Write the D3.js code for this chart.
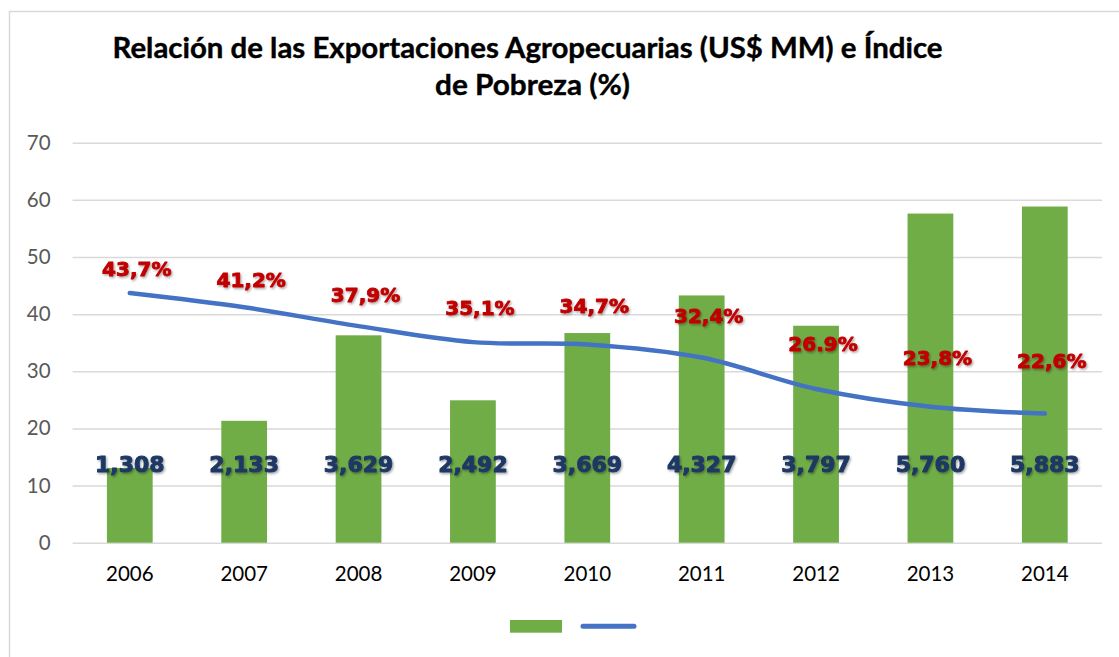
<!DOCTYPE html>
<html>
<head>
<meta charset="utf-8">
<script src="https://cdn.jsdelivr.net/npm/d3@7"></script>
<style>
  body { margin: 0; background: #fff; }
  svg { display: block; }
</style>
</head>
<body>
<div id="chart"></div>
<script>
// data
var years = ["2006", "2007", "2008", "2009", "2010", "2011", "2012", "2013", "2014"]
var exports = [1308, 2133, 3629, 2492, 3669, 4327, 3797, 5760, 5883]   // US$ MM
var poverty = [43.7, 41.2, 37.9, 35.1, 34.7, 32.4, 26.9, 23.8, 22.6]   // %
var povertyLabels = ["43,7%", "41,2%", "37,9%", "35,1%", "34,7%", "32,4%", "26.9%", "23,8%", "22,6%"]
var yTicks = [0, 10, 20, 30, 40, 50, 60, 70]
var titleLines = ["Relación de las Exportaciones Agropecuarias (US$ MM) e Índice", "de Pobreza (%)"]

var width = 1119
var height = 657

var svg = d3.select("#chart")
  .append("svg")
    .attr("width", width)
    .attr("height", height)

// soft shadow used by the data labels
var defs = svg.append("defs")
defs.append("filter")
    .attr("id", "shadow")
    .attr("x", "-10%").attr("y", "-20%")
    .attr("width", "130%").attr("height", "150%")
  .append("feDropShadow")
    .attr("dx", 1.2)
    .attr("dy", 1.5)
    .attr("stdDeviation", 1)
    .attr("flood-color", "#000")
    .attr("flood-opacity", 0.35)

// chart border (runs off the right / bottom of the picture)
svg.append("rect")
    .attr("x", 9.5)
    .attr("y", 11.5)
    .attr("width", 1200)
    .attr("height", 700)
    .attr("fill", "#fff")
    .attr("stroke", "#D9D9D9")
    .attr("stroke-width", 1.5)

// title
svg.append("g")
  .selectAll("text")
  .data(titleLines)
  .enter()
  .append("text")
    .attr("x", function(d, i){ return i == 0 ? 527.5 : 532.5 })
    .attr("y", function(d, i){ return 58 + i * 37 })
    .attr("text-anchor", "middle")
    .attr("textLength", function(d, i){ return i == 0 ? 830 : 195 })
    .attr("lengthAdjust", "spacingAndGlyphs")
    .style("font-family", "Lato, 'Liberation Sans', sans-serif")
    .style("font-weight", 700)
    .style("font-size", "28.5px")
    .style("fill", "#000")
    .style("stroke", "#000")
    .style("stroke-width", 0.4)
    .text(function(d){ return d })

// scales
var x = d3.scaleBand()
  .domain(years)
  .range([72.6, 1102])
  .paddingInner(0.6)
  .paddingOuter(0.3)

var y = d3.scaleLinear()
  .domain([0, 70])
  .range([542.7, 142.7])

// y axis + gridlines
var yAxis = svg.append("g")
    .attr("transform", "translate(72.6,0)")
    .call(d3.axisLeft(y)
      .tickValues(yTicks)
      .tickSize(-(1102 - 72.6))
      .tickPadding(22))
yAxis.select(".domain").remove()
yAxis.selectAll(".tick line")
    .attr("stroke", "#D9D9D9")
    .attr("stroke-width", 1.5)
yAxis.selectAll(".tick text")
    .style("font-family", "Lato, 'Liberation Sans', sans-serif")
    .style("font-size", "20.5px")
    .style("fill", "#595959")

// x axis
var xAxis = svg.append("g")
    .attr("transform", "translate(0,542.7)")
    .call(d3.axisBottom(x).tickSize(0).tickPadding(24))
xAxis.select(".domain").remove()
xAxis.selectAll(".tick text")
    .style("font-family", "Lato, 'Liberation Sans', sans-serif")
    .style("font-size", "20.5px")
    .style("fill", "#000")

// bars: exports shown in hundreds of US$ MM on the 0-70 axis
var rows = years.map(function(yr, i){
  return { year: yr, exp: exports[i], pov: poverty[i], povLabel: povertyLabels[i], i: i }
})

svg.append("g")
  .selectAll("rect")
  .data(rows)
  .enter()
  .append("rect")
    .attr("x", function(d){ return x(d.year) })
    .attr("width", x.bandwidth())
    .attr("y", function(d){ return y(d.exp / 100) })
    .attr("height", function(d){ return y(0) - y(d.exp / 100) })
    .attr("fill", "#70AD47")

// poverty line (smoothed like the office chart)
var line = d3.line()
  .x(function(d){ return x(d.year) + x.bandwidth() / 2 })
  .y(function(d){ return y(d.pov) })
  .curve(d3.curveCatmullRom.alpha(0.5))

svg.append("path")
    .datum(rows)
    .attr("d", line)
    .attr("fill", "none")
    .attr("stroke", "#4472C4")
    .attr("stroke-width", 4.5)
    .attr("stroke-linecap", "round")
    .attr("stroke-linejoin", "round")

// export labels
var fmt = d3.format(",")
svg.append("g")
  .selectAll("text")
  .data(rows)
  .enter()
  .append("text")
    .attr("x", function(d){ return x(d.year) + x.bandwidth() / 2 })
    .attr("y", y(13.75))
    .attr("dy", "0.36em")
    .attr("text-anchor", "middle")
    .attr("filter", "url(#shadow)")
    .style("font-family", "'DejaVu Sans', sans-serif")
    .style("font-weight", 700)
    .style("font-size", "22px")
    .style("fill", "#1F3864")
    .style("stroke", "#1F3864")
    .style("stroke-width", 1)
    .style("stroke-linejoin", "round")
    .text(function(d){ return fmt(d.exp) })

// poverty labels, lifted a bit more as the line drops
svg.append("g")
  .selectAll("text")
  .data(rows)
  .enter()
  .append("text")
    .attr("x", function(d){ return x(d.year) + x.bandwidth() / 2 + 7 })
    .attr("y", function(d){ return y(d.pov) - (24 + 3.6 * d.i) })
    .attr("dy", "0.36em")
    .attr("text-anchor", "middle")
    .attr("filter", "url(#shadow)")
    .style("font-family", "'DejaVu Sans', sans-serif")
    .style("font-weight", 700)
    .style("font-size", "20px")
    .style("fill", "#C00000")
    .style("stroke", "#C00000")
    .style("stroke-width", 0.9)
    .style("stroke-linejoin", "round")
    .text(function(d){ return d.povLabel })

// legend (entries have no names in the original)
var legend = svg.append("g")
legend.append("rect")
    .attr("x", 510)
    .attr("y", 620)
    .attr("width", 52)
    .attr("height", 12.7)
    .attr("fill", "#70AD47")
legend.append("line")
    .attr("x1", 583)
    .attr("x2", 634)
    .attr("y1", 626.3)
    .attr("y2", 626.3)
    .attr("stroke", "#4472C4")
    .attr("stroke-width", 5)
    .attr("stroke-linecap", "round")
</script>
</body>
</html>
